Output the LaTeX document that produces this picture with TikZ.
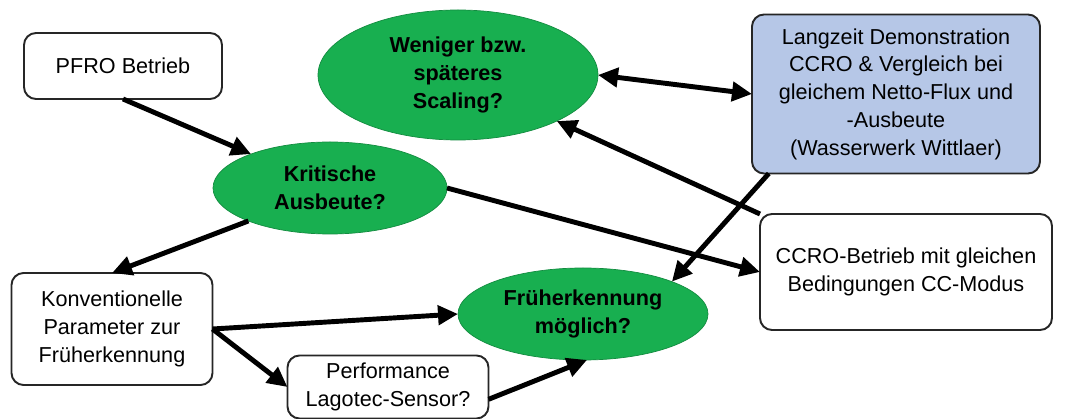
\documentclass[tikz,border=0pt]{standalone}
\usepackage{fontspec}
\setmainfont{Liberation Sans}
\usetikzlibrary{shapes.geometric,arrows.meta}
\definecolor{qgreen}{RGB}{24,175,80}
\definecolor{qblue}{RGB}{182,199,231}

\begin{document}
\begin{tikzpicture}
  [box/.style={rectangle,rounded corners=0.24cm,draw=black!85,fill=white,line width=1.1pt,
               align=center,outer sep=0,inner sep=0,font=\fontsize{12.3}{15.8}\selectfont},
   demo/.style={box,fill=qblue},
   question/.style={ellipse,fill=qgreen,draw=qgreen!80!black,thin,align=center,
                    outer sep=0,inner sep=0,font=\bfseries\fontsize{12.3}{15.8}\selectfont},
   link/.style={line width=2.8pt,-{Triangle[length=0.4cm,width=0.38cm]}},
   twoway/.style={line width=2.8pt,{Triangle[length=0.4cm,width=0.38cm]}-{Triangle[length=0.4cm,width=0.38cm]}}]
  \useasboundingbox (0,0) rectangle (21.5,-8.38);
%  boxes
  \node[box,minimum width=3.96cm,minimum height=1.32cm] (pfro) at (2.46,-1.32) {PFRO Betrieb};
  \node[demo,minimum width=5.76cm,minimum height=3.18cm] (langzeit) at (17.92,-1.88)
       {Langzeit Demonstration\\CCRO \& Vergleich bei\\gleichem Netto-Flux und\\-Ausbeute\\(Wasserwerk Wittlaer)};
  \node[box,minimum width=5.84cm,minimum height=2.32cm] (ccro) at (18.12,-5.44)
       {CCRO-Betrieb mit gleichen\\Bedingungen CC-Modus};
  \node[box,minimum width=4.02cm,minimum height=2.24cm] (konv) at (2.24,-6.58)
       {Konventionelle\\Parameter zur\\Früherkennung};
  \node[box,minimum width=4.02cm,minimum height=1.26cm] (perf) at (7.76,-7.74)
       {Performance\\Lagotec-Sensor?};
%  questions
  \node[question,minimum width=5.6cm,minimum height=2.6cm] (weniger) at (9.16,-1.5)
       {Weniger bzw.\\späteres\\Scaling?};
  \node[question,minimum width=4.68cm,minimum height=1.84cm] (kritisch) at (6.6,-3.76)
       {Kritische\\Ausbeute?};
  \node[question,minimum width=5.0cm,minimum height=1.84cm] (frueh) at (11.66,-6.28)
       {Früherkennung\\möglich?};
%  arrows
  \draw[link] (pfro.south) to (kritisch);
  \draw[link] (kritisch.202) to (konv.north);
  \draw[link] (kritisch.east) to (ccro.west);
  \draw[twoway] (weniger.east) to (langzeit.west);
  \draw[link] (ccro.north west) to (weniger.-25);
  \draw[link] (langzeit.212) to (frueh.20);
  \draw[link] (konv.east) to (frueh.west);
  \draw[link] (konv.east) to (perf.west);
  \draw[link] (perf.-7) to (frueh.-85);
\end{tikzpicture}
\end{document}
